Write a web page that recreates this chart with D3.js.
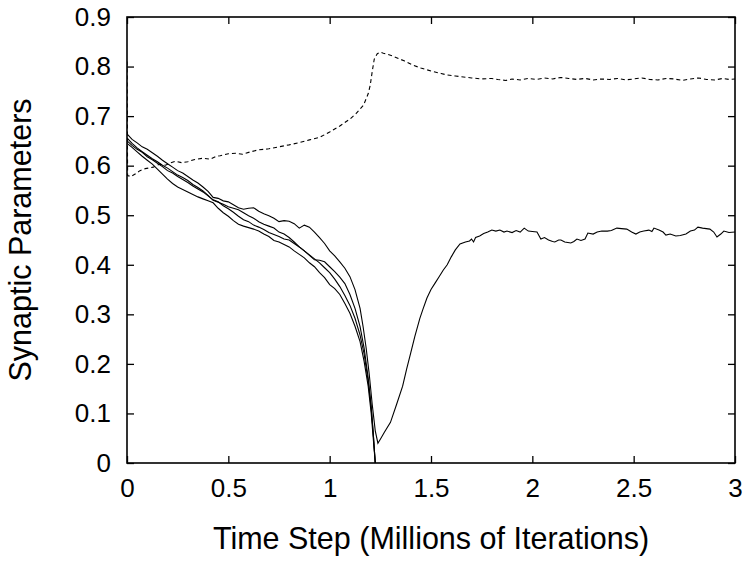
<!DOCTYPE html>
<html>
<head>
<meta charset="utf-8">
<script src="https://cdn.jsdelivr.net/npm/d3@7"></script>
<style>
  body { margin: 0; background: #fff; }
  text { font-family: "Liberation Sans", Arial, Helvetica, sans-serif; fill: #000; }
</style>
</head>
<body>
<div id="chart"></div>
<script>
// tick labels
const xTicks = [0, 0.5, 1, 1.5, 2, 2.5, 3];
const yTicks = [0, 0.1, 0.2, 0.3, 0.4, 0.5, 0.6, 0.7, 0.8, 0.9];

// solid curve that dips and recovers
const recoverT = [0, 0.025, 0.05, 0.075, 0.1, 0.125, 0.15, 0.175, 0.2, 0.225, 0.25, 0.275, 0.3, 0.325, 0.35, 0.375, 0.4, 0.425, 0.45, 0.475, 0.5, 0.525, 0.55, 0.575, 0.6, 0.625, 0.65, 0.675, 0.7, 0.725, 0.75, 0.775, 0.8, 0.825, 0.85, 0.875, 0.9, 0.925, 0.95, 0.975, 1.0, 1.025, 1.05, 1.075, 1.1, 1.125, 1.15, 1.165, 1.18, 1.195, 1.21, 1.225, 1.238, 1.25, 1.27, 1.3, 1.33, 1.36, 1.38, 1.4, 1.42, 1.445, 1.46, 1.48, 1.5, 1.52, 1.54, 1.56, 1.58, 1.6, 1.62, 1.643, 1.67, 1.69, 1.7, 1.71, 1.72, 1.74, 1.76, 1.78, 1.8, 1.82, 1.84, 1.86, 1.875, 1.9, 1.92, 1.94, 1.96, 1.98, 2.0, 2.023, 2.042, 2.06, 2.08, 2.1, 2.111, 2.13, 2.141, 2.16, 2.19, 2.205, 2.22, 2.24, 2.26, 2.274, 2.3, 2.32, 2.343, 2.37, 2.39, 2.417, 2.44, 2.466, 2.49, 2.511, 2.53, 2.55, 2.575, 2.59, 2.6, 2.625, 2.645, 2.659, 2.68, 2.708, 2.73, 2.758, 2.78, 2.8, 2.817, 2.84, 2.876, 2.895, 2.911, 2.93, 2.945, 2.97, 3.0];
const recoverV = [0.664, 0.653, 0.646, 0.638, 0.633, 0.626, 0.619, 0.611, 0.604, 0.597, 0.590, 0.585, 0.578, 0.571, 0.565, 0.557, 0.548, 0.536, 0.534, 0.529, 0.527, 0.521, 0.515, 0.512, 0.514, 0.515, 0.508, 0.503, 0.499, 0.494, 0.487, 0.489, 0.488, 0.483, 0.474, 0.480, 0.476, 0.466, 0.455, 0.443, 0.428, 0.418, 0.406, 0.393, 0.376, 0.350, 0.312, 0.275, 0.232, 0.180, 0.118, 0.065, 0.040, 0.048, 0.062, 0.082, 0.118, 0.155, 0.190, 0.222, 0.255, 0.292, 0.310, 0.333, 0.350, 0.363, 0.376, 0.389, 0.400, 0.416, 0.430, 0.442, 0.446, 0.448, 0.452, 0.446, 0.455, 0.458, 0.463, 0.466, 0.470, 0.468, 0.470, 0.466, 0.468, 0.465, 0.469, 0.466, 0.474, 0.468, 0.467, 0.466, 0.452, 0.455, 0.450, 0.447, 0.446, 0.450, 0.450, 0.446, 0.444, 0.447, 0.452, 0.449, 0.452, 0.464, 0.462, 0.466, 0.468, 0.468, 0.469, 0.474, 0.473, 0.472, 0.466, 0.462, 0.466, 0.468, 0.470, 0.467, 0.474, 0.470, 0.466, 0.460, 0.462, 0.458, 0.459, 0.462, 0.468, 0.470, 0.476, 0.474, 0.472, 0.466, 0.456, 0.462, 0.468, 0.465, 0.466];

// three solid curves that collapse to zero
const fallT = [0, 0.025, 0.05, 0.075, 0.1, 0.125, 0.15, 0.175, 0.2, 0.225, 0.25, 0.275, 0.3, 0.325, 0.35, 0.375, 0.4, 0.425, 0.45, 0.475, 0.5, 0.525, 0.55, 0.575, 0.6, 0.625, 0.65, 0.675, 0.7, 0.725, 0.75, 0.775, 0.8, 0.825, 0.85, 0.875, 0.9, 0.925, 0.95, 0.975, 1.0, 1.025, 1.05, 1.075, 1.1, 1.125, 1.15, 1.17, 1.19, 1.205, 1.215, 1.225];
const fallA = [0.656, 0.645, 0.636, 0.628, 0.621, 0.614, 0.608, 0.601, 0.595, 0.588, 0.581, 0.576, 0.570, 0.562, 0.556, 0.549, 0.540, 0.530, 0.526, 0.522, 0.517, 0.514, 0.511, 0.505, 0.499, 0.494, 0.487, 0.482, 0.478, 0.474, 0.466, 0.462, 0.455, 0.446, 0.436, 0.428, 0.420, 0.412, 0.404, 0.394, 0.384, 0.371, 0.356, 0.338, 0.318, 0.292, 0.258, 0.220, 0.165, 0.110, 0.060, 0];
const fallB = [0.650, 0.641, 0.633, 0.627, 0.618, 0.612, 0.605, 0.598, 0.590, 0.585, 0.578, 0.572, 0.566, 0.559, 0.553, 0.547, 0.539, 0.531, 0.527, 0.519, 0.513, 0.506, 0.498, 0.491, 0.487, 0.480, 0.476, 0.471, 0.465, 0.461, 0.457, 0.452, 0.450, 0.443, 0.436, 0.428, 0.419, 0.410, 0.409, 0.406, 0.396, 0.386, 0.375, 0.362, 0.340, 0.312, 0.275, 0.232, 0.172, 0.115, 0.060, 0];
const fallC = [0.645, 0.637, 0.628, 0.619, 0.611, 0.603, 0.593, 0.583, 0.573, 0.564, 0.557, 0.552, 0.547, 0.542, 0.537, 0.533, 0.529, 0.525, 0.514, 0.505, 0.498, 0.489, 0.482, 0.478, 0.475, 0.472, 0.468, 0.462, 0.457, 0.449, 0.446, 0.441, 0.436, 0.428, 0.421, 0.414, 0.404, 0.396, 0.384, 0.374, 0.360, 0.352, 0.340, 0.322, 0.302, 0.276, 0.245, 0.205, 0.155, 0.100, 0.050, 0];

// dashed curve
const dashT = [0, 0.003, 0.02, 0.04, 0.064, 0.09, 0.13, 0.16, 0.19, 0.21, 0.24, 0.27, 0.3, 0.33, 0.375, 0.41, 0.44, 0.46, 0.5, 0.54, 0.57, 0.61, 0.65, 0.7, 0.75, 0.8, 0.855, 0.9, 0.95, 1.0, 1.05, 1.1, 1.13, 1.167, 1.19, 1.2, 1.21, 1.22, 1.235, 1.25, 1.265, 1.3, 1.33, 1.37, 1.41, 1.45, 1.5, 1.55, 1.58, 1.62, 1.66, 1.7, 1.75, 1.8, 1.83, 1.87, 1.9, 1.94, 1.98, 2.02, 2.06, 2.1, 2.14, 2.18, 2.22, 2.26, 2.3, 2.34, 2.38, 2.42, 2.46, 2.5, 2.54, 2.58, 2.62, 2.66, 2.7, 2.74, 2.78, 2.82, 2.86, 2.9, 2.94, 2.97, 3.0];
const dashV = [0.810, 0.580, 0.578, 0.583, 0.590, 0.594, 0.597, 0.603, 0.601, 0.605, 0.609, 0.606, 0.608, 0.612, 0.615, 0.613, 0.619, 0.620, 0.624, 0.625, 0.623, 0.628, 0.632, 0.634, 0.638, 0.642, 0.647, 0.652, 0.657, 0.668, 0.680, 0.694, 0.705, 0.722, 0.745, 0.762, 0.790, 0.815, 0.826, 0.829, 0.827, 0.823, 0.818, 0.811, 0.803, 0.797, 0.791, 0.786, 0.783, 0.781, 0.779, 0.777, 0.775, 0.776, 0.774, 0.772, 0.775, 0.773, 0.776, 0.774, 0.777, 0.775, 0.778, 0.776, 0.774, 0.776, 0.773, 0.775, 0.774, 0.776, 0.773, 0.775, 0.777, 0.774, 0.773, 0.776, 0.775, 0.772, 0.775, 0.777, 0.774, 0.773, 0.776, 0.774, 0.775];

const svgWidth = 747;
const svgHeight = 561;
const margin = { top: 17, right: 12, bottom: 98, left: 127 };
const width = svgWidth - margin.left - margin.right;
const height = svgHeight - margin.top - margin.bottom;

const svg = d3.select("#chart").append("svg")
    .attr("width", svgWidth)
    .attr("height", svgHeight);

const chartSvg = svg.append("g")
    .attr("transform", `translate(${margin.left},${margin.top})`);

const xScale = d3.scaleLinear().domain([0, 3]).range([0, width]);
const yScale = d3.scaleLinear().domain([0, 0.9]).range([height, 0]);

chartSvg.append("clipPath").attr("id", "clip")
    .append("rect").attr("width", width).attr("height", height);

const line = d3.line()
    .x(d => xScale(d[0]))
    .y(d => yScale(d[1]));

const zipT = (ts, vs) => ts.map((t, i) => [t, vs[i]]);

const curves = [
    { pts: zipT(fallT, fallA), dash: null },
    { pts: zipT(fallT, fallB), dash: null },
    { pts: zipT(fallT, fallC), dash: null },
    { pts: zipT(recoverT, recoverV), dash: null },
    { pts: zipT(dashT, dashV), dash: "4,3" }
];

chartSvg.append("g")
    .attr("clip-path", "url(#clip)")
    .selectAll("path")
    .data(curves)
    .enter()
    .append("path")
    .attr("d", d => line(d.pts))
    .attr("fill", "none")
    .attr("stroke", "#000")
    .attr("stroke-width", 1.1)
    .attr("stroke-dasharray", d => d.dash);

// axes: ticks point inward on all four sides
const tickLen = 7;
const fontTick = "26px";

const xAxis = chartSvg.append("g")
    .attr("transform", `translate(0,${height})`)
    .call(d3.axisBottom(xScale).tickValues(xTicks).tickSizeInner(-tickLen).tickSizeOuter(0).tickPadding(16).tickFormat(d3.format("")));
const xTop = chartSvg.append("g")
    .call(d3.axisTop(xScale).tickValues(xTicks).tickSizeInner(-tickLen).tickSizeOuter(0).tickFormat(""));
const yAxis = chartSvg.append("g")
    .call(d3.axisLeft(yScale).tickValues(yTicks).tickSizeInner(-tickLen).tickSizeOuter(0).tickPadding(16).tickFormat(d3.format("")));
const yRight = chartSvg.append("g")
    .attr("transform", `translate(${width},0)`)
    .call(d3.axisRight(yScale).tickValues(yTicks).tickSizeInner(-tickLen).tickSizeOuter(0).tickFormat(""));

[xAxis, xTop, yAxis, yRight].forEach(g => {
    g.select(".domain").remove();
    g.selectAll("line").attr("stroke", "#000").attr("stroke-width", 1.3);
    g.selectAll("text")
        .style("font-size", fontTick)
        .style("font-family", "'Liberation Sans', Arial, sans-serif")
        .attr("fill", "#000");
});

chartSvg.append("rect")
    .attr("width", width)
    .attr("height", height)
    .attr("fill", "none")
    .attr("stroke", "#000")
    .attr("stroke-width", 1.6);

chartSvg.append("text")
    .attr("x", width / 2)
    .attr("y", height + 86)
    .attr("text-anchor", "middle")
    .style("font-size", "30.5px")
    .text("Time Step (Millions of Iterations)");

chartSvg.append("text")
    .attr("transform", "rotate(-90)")
    .attr("x", -height / 2)
    .attr("y", -96)
    .attr("text-anchor", "middle")
    .style("font-size", "30.5px")
    .text("Synaptic Parameters");
</script>
</body>
</html>
